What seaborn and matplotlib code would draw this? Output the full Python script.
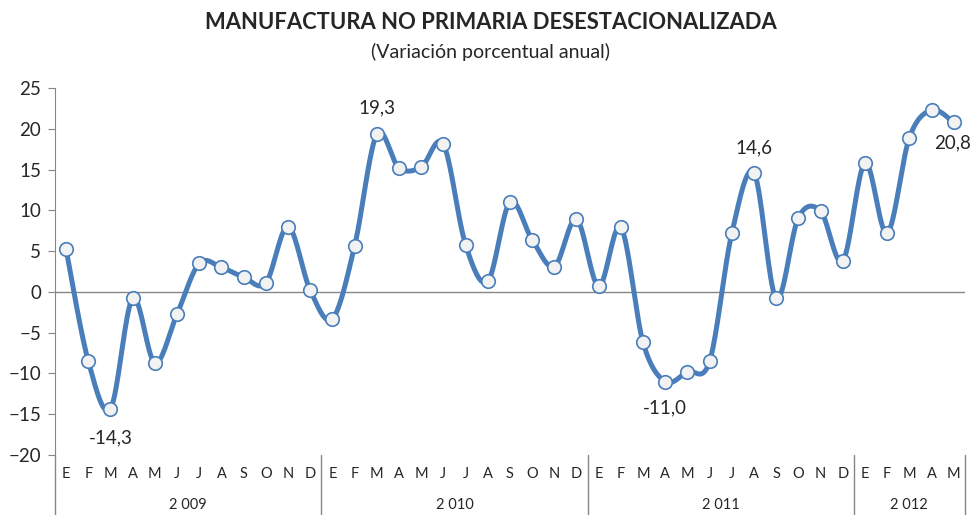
import numpy as np
import pandas as pd
import seaborn as sns
import matplotlib.pyplot as plt
import matplotlib.transforms as mtransforms

# data
months = ['E', 'F', 'M', 'A', 'M', 'J', 'J', 'A', 'S', 'O', 'N', 'D']
years = ['2 009', '2 010', '2 011', '2 012']
months_per_year = [12, 12, 12, 5]
values = [5.2, -8.5, -14.3, -0.8, -8.7, -2.7, 3.5, 3.0, 1.8, 1.1, 8.0, 0.2,
          -3.3, 5.6, 19.3, 15.2, 15.3, 18.1, 5.8, 1.3, 11.0, 6.4, 3.1, 8.9,
          0.7, 7.9, -6.2, -11.0, -9.8, -8.5, 7.2, 14.6, -0.8, 9.1, 9.9, 3.8,
          15.8, 7.2, 18.9, 22.3, 20.8]
labelled = [2, 14, 27, 31, 40]

# label offsets in points (dx, dy)
label_offsets = {2: (0, -21), 14: (0, 19), 27: (0, -19), 31: (0, 18),
                 40: (-1, -15)}

month_labels = []
for n in months_per_year:
    month_labels += months[:n]

df = pd.DataFrame({'idx': np.arange(len(values)), 'valor': values})

# smoothed line like Excel (Catmull-Rom through the points)
def catmull_rom(x, y, steps=20):
    px = np.concatenate([[x[0]], x, [x[-1]]])
    py = np.concatenate([[y[0]], y, [y[-1]]])
    xs, ys = [], []
    t = np.linspace(0, 1, steps, endpoint=False)
    for i in range(1, len(px) - 2):
        for p, out in ((px, xs), (py, ys)):
            p0, p1, p2, p3 = p[i - 1], p[i], p[i + 1], p[i + 2]
            out.extend(0.5 * ((2 * p1) + (-p0 + p2) * t
                              + (2 * p0 - 5 * p1 + 4 * p2 - p3) * t ** 2
                              + (-p0 + 3 * p1 - 3 * p2 + p3) * t ** 3))
    xs.append(x[-1])
    ys.append(y[-1])
    return np.array(xs), np.array(ys)

sx, sy = catmull_rom(df['idx'].values.astype(float), df['valor'].values)
smooth = pd.DataFrame({'x': sx, 'y': sy})

sns.set_style('white')
plt.rcParams['font.family'] = ['Lato', 'DejaVu Sans']

fig = plt.figure(figsize=(9.72, 5.15), dpi=100)
ax = fig.add_axes([0.0566, 0.1165, 0.936, 0.7126])

blue = '#4a7ebb'
sns.lineplot(data=smooth, x='x', y='y', ax=ax, color=blue, lw=3.6,
             sort=False, estimator=None, zorder=3)
sns.scatterplot(data=df, x='idx', y='valor', ax=ax, s=95, color='#f2f2f2',
                edgecolor=blue, linewidth=1.2, zorder=4)

ax.axhline(0, color='#868686', lw=1, zorder=1)

ax.set_xlim(-0.5, len(values) - 0.5)
ax.set_ylim(-20, 25)
ax.set_yticks(range(-20, 30, 5))
ax.set_xticks([])
ax.set_xlabel('')
ax.set_ylabel('')
ax.tick_params(axis='y', left=True, length=5, color='#868686',
               labelsize=13.5, pad=5)
for s in ['top', 'right', 'bottom']:
    ax.spines[s].set_visible(False)
ax.spines['left'].set_color('#868686')

# data labels
for i in labelled:
    txt = f'{values[i]:.1f}'.replace('.', ',')
    ax.annotate(txt, (i, values[i]), xytext=label_offsets[i],
                textcoords='offset points', ha='center', va='center',
                fontsize=13.5)

# category axis below the plot
trans = mtransforms.blended_transform_factory(ax.transData, ax.transAxes)
for i, m in enumerate(month_labels):
    ax.text(i, -0.052, m, transform=trans, ha='center', va='center',
            fontsize=10.5)
start = 0
bounds = [-0.5]
for y, n in zip(years, months_per_year):
    ax.text(start + (n - 1) / 2, -0.137, y, transform=trans, ha='center',
            va='center', fontsize=10.5)
    start += n
    bounds.append(start - 0.5)
for b in bounds:
    ax.plot([b, b], [0, -0.165], transform=trans, color='#868686', lw=1,
            clip_on=False)

fig.text(0.505, 0.957, 'MANUFACTURA NO PRIMARIA DESESTACIONALIZADA',
         ha='center', va='center', fontsize=15.8, fontweight='bold')
fig.text(0.505, 0.899, '(Variación porcentual anual)', ha='center',
         va='center', fontsize=14)

fig.savefig('out.png', dpi=100)
